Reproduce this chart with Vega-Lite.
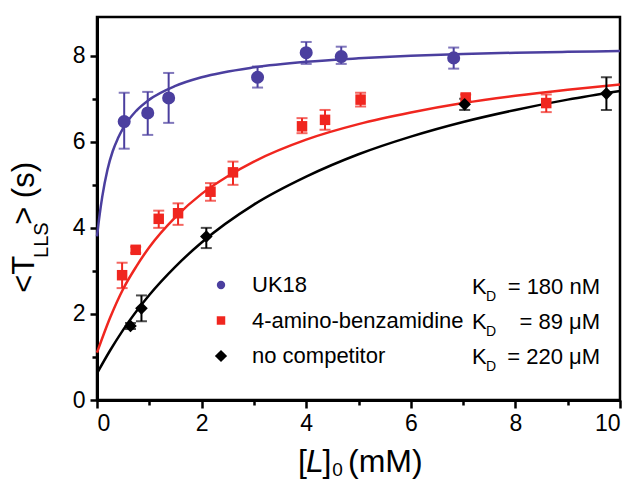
{
  "$schema": "https://vega.github.io/schema/vega-lite/v6.json",
  "width": 523,
  "height": 383,
  "autosize": {"type": "none"},
  "padding": {"left": 97, "top": 17, "right": 15, "bottom": 79},
  "background": "white",
  "config": {
    "view": {"stroke": "black", "strokeWidth": 2.5},
    "font": "Liberation Sans",
    "axis": {"labelFont": "Liberation Sans", "labelFontSize": 23, "labelColor": "black", "tickColor": "black", "domainColor": "black", "grid": false, "domainWidth": 3, "tickWidth": 2.5},
    "legend": {"title": null, "orient": "none", "legendX": 113, "legendY": 257, "padding": 0, "labelFontSize": 22, "labelFont": "Liberation Sans", "labelColor": "black", "labelOffset": 20, "labelLimit": 400, "rowPadding": 13.5, "symbolStrokeWidth": 0, "symbolOpacity": 1, "symbolSize": 64}
  },
  "datasets": {
    "points": [
      {"series": "UK18", "x": 0.52, "y": 6.47, "lo": 5.84, "hi": 7.14},
      {"series": "UK18", "x": 0.97, "y": 6.67, "lo": 6.16, "hi": 7.16},
      {"series": "UK18", "x": 1.37, "y": 7.02, "lo": 6.44, "hi": 7.6},
      {"series": "UK18", "x": 3.07, "y": 7.5, "lo": 7.26, "hi": 7.75},
      {"series": "UK18", "x": 4.0, "y": 8.07, "lo": 7.81, "hi": 8.32},
      {"series": "UK18", "x": 4.67, "y": 7.98, "lo": 7.81, "hi": 8.21},
      {"series": "UK18", "x": 6.82, "y": 7.95, "lo": 7.7, "hi": 8.19},
      {"series": "4-amino-benzamidine", "x": 0.48, "y": 2.9, "lo": 2.6, "hi": 3.19},
      {"series": "4-amino-benzamidine", "x": 0.74, "y": 3.49, "lo": 3.42, "hi": 3.56},
      {"series": "4-amino-benzamidine", "x": 1.18, "y": 4.21, "lo": 4.0, "hi": 4.4},
      {"series": "4-amino-benzamidine", "x": 1.55, "y": 4.34, "lo": 4.07, "hi": 4.57},
      {"series": "4-amino-benzamidine", "x": 2.17, "y": 4.84, "lo": 4.63, "hi": 5.04},
      {"series": "4-amino-benzamidine", "x": 2.6, "y": 5.29, "lo": 5.0, "hi": 5.54},
      {"series": "4-amino-benzamidine", "x": 3.92, "y": 6.36, "lo": 6.2, "hi": 6.55},
      {"series": "4-amino-benzamidine", "x": 4.36, "y": 6.51, "lo": 6.28, "hi": 6.74},
      {"series": "4-amino-benzamidine", "x": 5.04, "y": 6.98, "lo": 6.82, "hi": 7.14},
      {"series": "4-amino-benzamidine", "x": 7.05, "y": 7.03, "lo": 6.95, "hi": 7.1},
      {"series": "4-amino-benzamidine", "x": 8.59, "y": 6.9, "lo": 6.69, "hi": 7.1},
      {"series": "no competitor", "x": 0.64, "y": 1.72, "lo": 1.65, "hi": 1.79},
      {"series": "no competitor", "x": 0.85, "y": 2.13, "lo": 1.83, "hi": 2.43},
      {"series": "no competitor", "x": 2.09, "y": 3.8, "lo": 3.53, "hi": 4.0},
      {"series": "no competitor", "x": 7.03, "y": 6.87, "lo": 6.74, "hi": 7.0},
      {"series": "no competitor", "x": 9.74, "y": 7.12, "lo": 6.74, "hi": 7.5}
    ],
    "curves": [
      {"series": "UK18", "x": 0, "y": 3.8},
      {"series": "UK18", "x": 0.05, "y": 4.3},
      {"series": "UK18", "x": 0.1, "y": 4.72},
      {"series": "UK18", "x": 0.2, "y": 5.35},
      {"series": "UK18", "x": 0.3, "y": 5.78},
      {"series": "UK18", "x": 0.4, "y": 6.08},
      {"series": "UK18", "x": 0.5, "y": 6.32},
      {"series": "UK18", "x": 0.75, "y": 6.72},
      {"series": "UK18", "x": 1, "y": 6.98},
      {"series": "UK18", "x": 1.5, "y": 7.3},
      {"series": "UK18", "x": 2, "y": 7.5},
      {"series": "UK18", "x": 3, "y": 7.73},
      {"series": "UK18", "x": 4, "y": 7.86},
      {"series": "UK18", "x": 5, "y": 7.94},
      {"series": "UK18", "x": 6, "y": 8.0},
      {"series": "UK18", "x": 7, "y": 8.04},
      {"series": "UK18", "x": 8, "y": 8.07},
      {"series": "UK18", "x": 9, "y": 8.09},
      {"series": "UK18", "x": 10, "y": 8.11},
      {"series": "4-amino-benzamidine", "x": 0, "y": 1.1},
      {"series": "4-amino-benzamidine", "x": 0.25, "y": 1.91},
      {"series": "4-amino-benzamidine", "x": 0.5, "y": 2.58},
      {"series": "4-amino-benzamidine", "x": 0.75, "y": 3.1},
      {"series": "4-amino-benzamidine", "x": 1, "y": 3.55},
      {"series": "4-amino-benzamidine", "x": 1.5, "y": 4.25},
      {"series": "4-amino-benzamidine", "x": 2, "y": 4.79},
      {"series": "4-amino-benzamidine", "x": 2.5, "y": 5.2},
      {"series": "4-amino-benzamidine", "x": 3, "y": 5.54},
      {"series": "4-amino-benzamidine", "x": 4, "y": 6.05},
      {"series": "4-amino-benzamidine", "x": 5, "y": 6.41},
      {"series": "4-amino-benzamidine", "x": 6, "y": 6.68},
      {"series": "4-amino-benzamidine", "x": 7, "y": 6.9},
      {"series": "4-amino-benzamidine", "x": 8, "y": 7.07},
      {"series": "4-amino-benzamidine", "x": 9, "y": 7.21},
      {"series": "4-amino-benzamidine", "x": 10, "y": 7.33},
      {"series": "no competitor", "x": 0, "y": 0.62},
      {"series": "no competitor", "x": 0.25, "y": 1.15},
      {"series": "no competitor", "x": 0.5, "y": 1.63},
      {"series": "no competitor", "x": 1, "y": 2.44},
      {"series": "no competitor", "x": 1.5, "y": 3.1},
      {"series": "no competitor", "x": 2, "y": 3.66},
      {"series": "no competitor", "x": 3, "y": 4.54},
      {"series": "no competitor", "x": 4, "y": 5.19},
      {"series": "no competitor", "x": 5, "y": 5.71},
      {"series": "no competitor", "x": 6, "y": 6.12},
      {"series": "no competitor", "x": 7, "y": 6.46},
      {"series": "no competitor", "x": 8, "y": 6.74},
      {"series": "no competitor", "x": 9, "y": 6.98},
      {"series": "no competitor", "x": 10, "y": 7.18}
    ]
  },
  "resolve": {"axis": {"x": "independent", "y": "independent"}},
  "layer": [
    {
      "data": {"name": "curves"},
      "mark": {"type": "line", "strokeWidth": 2.5, "interpolate": "monotone"},
      "encoding": {
        "x": {"field": "x", "type": "quantitative", "scale": {"domain": [0, 10], "nice": false}, "axis": {"orient": "bottom", "values": [1, 3, 5, 7, 9], "labels": false, "tickSize": 5, "domain": false, "title": null}},
        "y": {"field": "y", "type": "quantitative", "scale": {"domain": [0, 8.9], "nice": false}, "axis": {"orient": "left", "values": [1, 3, 5, 7], "labels": false, "tickSize": 5, "domain": false, "title": null}},
        "stroke": {"field": "series", "type": "nominal", "sort": "ascending", "scale": {"range": ["#f0261f", "#4b3f9f", "#000000"]}, "legend": null}
      }
    },
    {
      "data": {"name": "points"},
      "mark": {"type": "rule", "strokeWidth": 2},
      "encoding": {
        "x": {"field": "x", "type": "quantitative", "axis": {"orient": "bottom", "values": [0, 2, 4, 6, 8, 10], "tickSize": 8, "labelPadding": 4, "title": null}},
        "y": {"field": "lo", "type": "quantitative", "axis": {"orient": "left", "values": [0, 2, 4, 6, 8], "tickSize": 7, "labelPadding": 5, "title": null}},
        "y2": {"field": "hi"},
        "stroke": {"field": "series", "type": "nominal", "sort": "ascending", "legend": null}
      }
    },
    {
      "data": {"name": "points"},
      "mark": {"type": "tick", "orient": "horizontal", "size": 11, "thickness": 2},
      "encoding": {
        "x": {"field": "x", "type": "quantitative", "axis": null},
        "y": {"field": "lo", "type": "quantitative", "axis": null},
        "fill": {"field": "series", "type": "nominal", "sort": "ascending", "scale": {"range": ["#f0261f", "#4b3f9f", "#000000"]}, "legend": null}
      }
    },
    {
      "data": {"name": "points"},
      "mark": {"type": "tick", "orient": "horizontal", "size": 11, "thickness": 2},
      "encoding": {
        "x": {"field": "x", "type": "quantitative", "axis": null},
        "y": {"field": "hi", "type": "quantitative", "axis": null},
        "fill": {"field": "series", "type": "nominal", "sort": "ascending", "legend": null}
      }
    },
    {
      "data": {"name": "points"},
      "transform": [{"filter": "datum.series === 'UK18'"}],
      "mark": {"type": "point", "filled": true, "opacity": 1, "strokeWidth": 0, "size": 170},
      "encoding": {
        "x": {"field": "x", "type": "quantitative", "axis": null},
        "y": {"field": "y", "type": "quantitative", "axis": null},
        "color": {"field": "series", "type": "nominal", "scale": {"domain": ["UK18", "4-amino-benzamidine", "no competitor"], "range": ["#4b3f9f", "#f0261f", "#000000"]}, "legend": {"encode": {"symbols": {"update": {"size": {"signal": "datum.value === 'no competitor' ? 150 : (datum.value === 'UK18' ? 70 : 72)"}}}}}},
        "shape": {"field": "series", "type": "nominal", "scale": {"domain": ["UK18", "4-amino-benzamidine", "no competitor"], "range": ["circle", "square", "diamond"]}}
      }
    },
    {
      "data": {"name": "points"},
      "transform": [{"filter": "datum.series === '4-amino-benzamidine'"}],
      "mark": {"type": "point", "filled": true, "opacity": 1, "strokeWidth": 0, "size": 110},
      "encoding": {
        "x": {"field": "x", "type": "quantitative", "axis": null},
        "y": {"field": "y", "type": "quantitative", "axis": null},
        "color": {"field": "series", "type": "nominal"},
        "shape": {"field": "series", "type": "nominal"}
      }
    },
    {
      "data": {"name": "points"},
      "transform": [{"filter": "datum.series === 'no competitor'"}],
      "mark": {"type": "point", "filled": true, "opacity": 1, "strokeWidth": 0, "size": 160},
      "encoding": {
        "x": {"field": "x", "type": "quantitative", "axis": null},
        "y": {"field": "y", "type": "quantitative", "axis": null},
        "color": {"field": "series", "type": "nominal"},
        "shape": {"field": "series", "type": "nominal"}
      }
    },
    {"data": {"values": [{"t": "<T"}]}, "mark": {"type": "text", "angle": 270, "align": "left", "baseline": "middle", "fontSize": 31, "font": "Liberation Sans", "color": "black"}, "encoding": {"x": {"datum": -1.377, "axis": null}, "y": {"datum": 2.49, "axis": null}, "text": {"field": "t"}}},
    {"data": {"values": [{"t": "LLS"}]}, "mark": {"type": "text", "angle": 270, "align": "left", "baseline": "middle", "fontSize": 20, "font": "Liberation Sans", "color": "black"}, "encoding": {"x": {"datum": -1.052, "axis": null}, "y": {"datum": 3.3, "axis": null}, "text": {"field": "t"}}},
    {"data": {"values": [{"t": "> (s)"}]}, "mark": {"type": "text", "angle": 270, "align": "left", "baseline": "middle", "fontSize": 31, "font": "Liberation Sans", "color": "black"}, "encoding": {"x": {"datum": -1.377, "axis": null}, "y": {"datum": 4.07, "axis": null}, "text": {"field": "t"}}},
    {"data": {"values": [{"t": "["}]}, "mark": {"type": "text", "align": "left", "baseline": "alphabetic", "fontSize": 32, "font": "Liberation Sans", "color": "black"}, "encoding": {"x": {"datum": 3.843, "axis": null}, "y": {"datum": -1.67, "axis": null}, "text": {"field": "t"}}},
    {"data": {"values": [{"t": "L"}]}, "mark": {"type": "text", "align": "left", "baseline": "alphabetic", "fontSize": 32, "fontStyle": "italic", "font": "Liberation Sans", "color": "black"}, "encoding": {"x": {"datum": 3.996, "axis": null}, "y": {"datum": -1.67, "axis": null}, "text": {"field": "t"}}},
    {"data": {"values": [{"t": "]"}]}, "mark": {"type": "text", "align": "left", "baseline": "alphabetic", "fontSize": 32, "font": "Liberation Sans", "color": "black"}, "encoding": {"x": {"datum": 4.31, "axis": null}, "y": {"datum": -1.67, "axis": null}, "text": {"field": "t"}}},
    {"data": {"values": [{"t": "0"}]}, "mark": {"type": "text", "align": "left", "baseline": "alphabetic", "fontSize": 19, "font": "Liberation Sans", "color": "black"}, "encoding": {"x": {"datum": 4.5, "axis": null}, "y": {"datum": -1.77, "axis": null}, "text": {"field": "t"}}},
    {"data": {"values": [{"t": "(mM)"}]}, "mark": {"type": "text", "align": "left", "baseline": "alphabetic", "fontSize": 32, "font": "Liberation Sans", "color": "black"}, "encoding": {"x": {"datum": 4.8, "axis": null}, "y": {"datum": -1.67, "axis": null}, "text": {"field": "t"}}},
    {"data": {"values": [{"t": "K"}]}, "mark": {"type": "text", "align": "left", "baseline": "middle", "fontSize": 22, "font": "Liberation Sans", "color": "black"}, "encoding": {"x": {"datum": 7.17, "axis": null}, "y": {"datum": 2.626, "axis": null}, "text": {"field": "t"}}},
    {"data": {"values": [{"t": "D"}]}, "mark": {"type": "text", "align": "left", "baseline": "middle", "fontSize": 14, "font": "Liberation Sans", "color": "black"}, "encoding": {"x": {"datum": 7.44, "axis": null}, "y": {"datum": 2.394, "axis": null}, "text": {"field": "t"}}},
    {"data": {"values": [{"t": "= 180  nM"}]}, "mark": {"type": "text", "align": "right", "baseline": "middle", "fontSize": 22, "font": "Liberation Sans", "color": "black"}, "encoding": {"x": {"datum": 9.618, "axis": null}, "y": {"datum": 2.626, "axis": null}, "text": {"field": "t"}}},
    {"data": {"values": [{"t": "K"}]}, "mark": {"type": "text", "align": "left", "baseline": "middle", "fontSize": 22, "font": "Liberation Sans", "color": "black"}, "encoding": {"x": {"datum": 7.17, "axis": null}, "y": {"datum": 1.813, "axis": null}, "text": {"field": "t"}}},
    {"data": {"values": [{"t": "D"}]}, "mark": {"type": "text", "align": "left", "baseline": "middle", "fontSize": 14, "font": "Liberation Sans", "color": "black"}, "encoding": {"x": {"datum": 7.44, "axis": null}, "y": {"datum": 1.58, "axis": null}, "text": {"field": "t"}}},
    {"data": {"values": [{"t": "=  89  μM"}]}, "mark": {"type": "text", "align": "right", "baseline": "middle", "fontSize": 22, "font": "Liberation Sans", "color": "black"}, "encoding": {"x": {"datum": 9.618, "axis": null}, "y": {"datum": 1.813, "axis": null}, "text": {"field": "t"}}},
    {"data": {"values": [{"t": "K"}]}, "mark": {"type": "text", "align": "left", "baseline": "middle", "fontSize": 22, "font": "Liberation Sans", "color": "black"}, "encoding": {"x": {"datum": 7.17, "axis": null}, "y": {"datum": 0.999, "axis": null}, "text": {"field": "t"}}},
    {"data": {"values": [{"t": "D"}]}, "mark": {"type": "text", "align": "left", "baseline": "middle", "fontSize": 14, "font": "Liberation Sans", "color": "black"}, "encoding": {"x": {"datum": 7.44, "axis": null}, "y": {"datum": 0.767, "axis": null}, "text": {"field": "t"}}},
    {"data": {"values": [{"t": "= 220 μM"}]}, "mark": {"type": "text", "align": "right", "baseline": "middle", "fontSize": 22, "font": "Liberation Sans", "color": "black"}, "encoding": {"x": {"datum": 9.618, "axis": null}, "y": {"datum": 0.999, "axis": null}, "text": {"field": "t"}}}
  ]
}
